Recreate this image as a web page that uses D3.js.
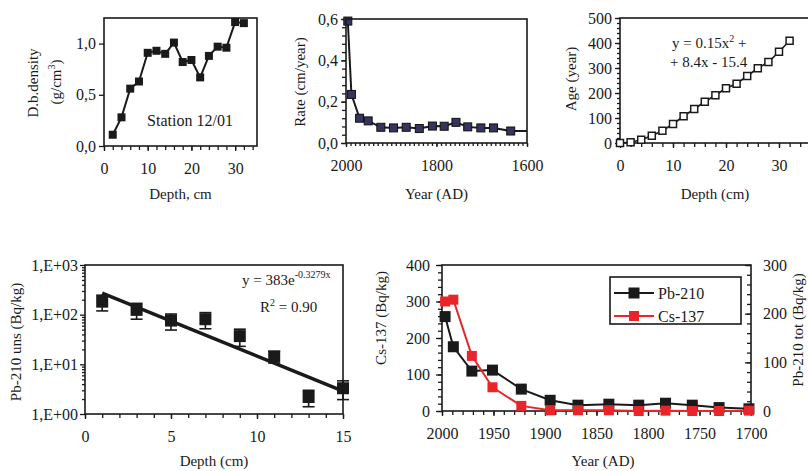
<!DOCTYPE html>
<html><head><meta charset="utf-8">
<script src="https://cdn.jsdelivr.net/npm/d3@7"></script>
<style>
body{margin:0;background:#fff}
svg{display:block}
text{font-family:"Liberation Serif","Times New Roman",serif;fill:#1a1a1a}
</style>
</head><body>
<svg id="c" width="808" height="471"></svg>
<script>
// ---------- DATA ----------
// Panel A: dry bulk density vs depth
const densDepth = [2,4,6,8,10,12,14,16,18,20,22,24,26,28,30,32];
const densValue = [0.11,0.28,0.56,0.63,0.91,0.93,0.90,1.01,0.82,0.84,0.67,0.88,0.97,0.96,1.21,1.20];
const densYTicks = [0,0.5,1.0];
const densYLabels = ["0,0","0,5","1,0"];
const densXTicks = [0,10,20,30];

// Panel B: sedimentation rate vs year
const rateYear  = [1996,1988,1970,1951,1923,1895,1867,1838,1809,1783,1757,1731,1702,1674,1636,1585];
const rateValue = [0.59,0.235,0.12,0.107,0.076,0.073,0.076,0.070,0.082,0.081,0.100,0.078,0.073,0.073,0.058,0.058];
const rateMarkerCount = 15;
const rateYTicks = [0,0.2,0.4,0.6];
const rateYLabels = ["0,0","0,2","0,4","0,6"];
const rateXTicks = [2000,1800,1600];

// Panel C: age vs depth
const ageDepth = [0,2,4,6,8,10,12,14,16,18,20,22,24,26,28,30,32];
const ageValue = [0,3,13,29,49,76,107,136,165,191,219,237,268,299,324,365,409];
const ageYTicks = [0,100,200,300,400,500];
const ageXTicks = [0,10,20,30];

// Panel D: Pb-210 unsupported (log) vs depth
const pbuDepth = [1,3,5,7,9,11,13,15];
const pbuValue = [183,125,76,81,37,14.4,2.2,3.3];
const pbuErr   = [64,44,27,29,14,3.8,0.8,1.35];
const pbuFitX  = [1,15];
const pbuFitY  = [270,2.9];
const pbuYTicks = [1,10,100,1000];
const pbuYLabels = ["1,E+00","1,E+01","1,E+02","1,E+03"];
const pbuXTicks = [0,5,10,15];

// Panel E: Pb-210 tot and Cs-137 vs year
const profYear = [1997,1989,1971,1951,1923,1895,1868,1838,1809,1783,1757,1731,1702];
const pbTot    = [194,132,82,84,45,22,12,14,12,16,12,7,4.5];
const csValue  = [300,305,151,65,14,2,2,2,0,1,0,0,1];
const profXTicks = [2000,1950,1900,1850,1800,1750,1700];
const csYTicks = [0,100,200,300,400];
const pbYTicks = [0,100,200,300];
const legendNames = ["Pb-210","Cs-137"];
const seriesColors = ["#1a1a1a","#e8262a"];

// ---------- DRAWING ----------
const svg = d3.select("#c");
const INK = "#1a1a1a";
const FS = 15;
const TFS = 16;

function styleAxis(g){
  g.select(".domain").remove();
  g.selectAll("line").attr("stroke",INK).attr("stroke-width",1.3);
  g.selectAll("text").attr("font-size",TFS).attr("fill",INK)
    .style("font-family",'"Liberation Serif","Times New Roman",serif');
}
function axis(gen, pos, scale, vals, fmt, size, pad, isMinor){
  const a = gen(scale).tickValues(vals).tickSize(size).tickPadding(pad)
     .tickFormat(isMinor ? "" : fmt);
  const g = svg.append("g").attr("transform", pos).call(a);
  styleAxis(g);
  return g;
}
function frame(x0,x1,y0,y1,w){
  svg.append("rect").attr("x",x0).attr("y",y0).attr("width",x1-x0).attr("height",y1-y0)
    .attr("fill","none").attr("stroke",INK).attr("stroke-width",w||1.6);
}
function ytitle(x, y, fs){
  return svg.append("text").attr("transform",`translate(${x},${y}) rotate(-90)`)
    .attr("text-anchor","middle").attr("font-size",fs||FS);
}
function clip(id,x0,x1,y0,y1){
  svg.append("clipPath").attr("id",id).append("rect")
    .attr("x",x0).attr("y",y0).attr("width",x1-x0).attr("height",y1-y0);
}

// ===== Panel A =====
{
  const x = d3.scaleLinear([0,35],[104,257]);
  const y = d3.scaleLinear([0,1.25],[146,18]);
  axis(d3.axisBottom,`translate(0,${y(0)})`,x,d3.range(0,35,2),null,4,0,true);
  axis(d3.axisBottom,`translate(0,${y(0)})`,x,densXTicks,d3.format("d"),5,12,false);
  axis(d3.axisLeft,`translate(${x(0)},0)`,y,densYTicks,(d,i)=>densYLabels[i],5,3,false);
  frame(x(0),x(35),y(1.25),y(0));
  svg.append("path").datum(densDepth.map((d,i)=>[d,densValue[i]]))
    .attr("d",d3.line().x(d=>x(d[0])).y(d=>y(d[1])))
    .attr("fill","none").attr("stroke",INK).attr("stroke-width",2);
  svg.append("g").selectAll("rect").data(densDepth).join("rect")
    .attr("x",d=>x(d)-4).attr("y",(d,i)=>y(densValue[i])-4).attr("width",8).attr("height",8)
    .attr("fill",INK);
  svg.append("text").attr("x",190).attr("y",126).attr("text-anchor","middle")
    .attr("font-size",16).text("Station 12/01");
  svg.append("text").attr("x",(x(0)+x(35))/2).attr("y",199).attr("text-anchor","middle")
    .attr("font-size",FS).text("Depth, cm");
  ytitle(38,83).text("D.b.density");
  const t2 = ytitle(61,82);
  t2.append("tspan").text("(g/cm");
  t2.append("tspan").attr("dy",-6).attr("font-size",10).text("3");
  t2.append("tspan").attr("dy",6).text(")");
}

// ===== Panel B =====
{
  const x = d3.scaleLinear([2000,1600],[346,527]);
  const y = d3.scaleLinear([0,0.6],[143,19]);
  axis(d3.axisBottom,`translate(0,${y(0)})`,x,d3.range(2000,1599,-10),null,3,0,true);
  axis(d3.axisBottom,`translate(0,${y(0)})`,x,rateXTicks,d3.format("d"),4,13,false);
  axis(d3.axisLeft,`translate(${x(2000)},0)`,y,d3.range(0,0.601,0.04),null,4,0,true);
  axis(d3.axisLeft,`translate(${x(2000)},0)`,y,rateYTicks,(d,i)=>rateYLabels[i],5,3,false);
  clip("clipB",x(2000),x(1600),y(0.6)-6,y(0));
  const pts = rateYear.map((d,i)=>[d,rateValue[i]]);
  svg.append("path").datum(pts).attr("clip-path","url(#clipB)")
    .attr("d",d3.line().x(d=>x(d[0])).y(d=>y(d[1])))
    .attr("fill","none").attr("stroke",INK).attr("stroke-width",2);
  svg.append("g").selectAll("rect").data(pts.slice(0,rateMarkerCount)).join("rect")
    .attr("x",d=>x(d[0])-4).attr("y",d=>y(d[1])-4).attr("width",8).attr("height",8)
    .attr("fill","#34345e").attr("stroke","#111").attr("stroke-width",1);
  frame(x(2000),x(1600),y(0.6),y(0));
  svg.append("text").attr("x",(x(2000)+x(1600))/2).attr("y",199).attr("text-anchor","middle")
    .attr("font-size",FS).text("Year (AD)");
  ytitle(305,82).text("Rate (cm/year)");
}

// ===== Panel C =====
{
  const x = d3.scaleLinear([0,40],[620,832]);
  const y = d3.scaleLinear([0,500],[143,18]);
  axis(d3.axisBottom,`translate(0,${y(0)})`,x,d3.range(0,41,2),null,4,0,true);
  axis(d3.axisBottom,`translate(0,${y(0)})`,x,ageXTicks,d3.format("d"),5,12,false);
  axis(d3.axisLeft,`translate(${x(0)},0)`,y,d3.range(0,501,20),null,3,0,true);
  axis(d3.axisLeft,`translate(${x(0)},0)`,y,ageYTicks,d3.format("d"),5,3,false);
  frame(x(0),x(40),y(500),y(0));
  svg.append("path").datum(ageDepth.map((d,i)=>[d,ageValue[i]]))
    .attr("d",d3.line().x(d=>x(d[0])).y(d=>y(d[1])))
    .attr("fill","none").attr("stroke",INK).attr("stroke-width",1.6);
  svg.append("g").selectAll("rect").data(ageDepth).join("rect")
    .attr("x",d=>x(d)-3.5).attr("y",(d,i)=>y(ageValue[i])-3.5).attr("width",7).attr("height",7)
    .attr("fill","#fff").attr("stroke",INK).attr("stroke-width",1.5);
  const e1 = svg.append("text").attr("x",672).attr("y",48).attr("font-size",FS);
  e1.append("tspan").text("y = 0.15x");
  e1.append("tspan").attr("dy",-6).attr("font-size",10).text("2");
  e1.append("tspan").attr("dy",6).text(" +");
  svg.append("text").attr("x",670).attr("y",67).attr("font-size",FS).text("+ 8.4x - 15.4");
  svg.append("text").attr("x",715).attr("y",199).attr("text-anchor","middle")
    .attr("font-size",FS).text("Depth (cm)");
  ytitle(576,79).text("Age (year)");
}

// ===== Panel D =====
{
  const x = d3.scaleLinear([0,15],[85,343]);
  const y = d3.scaleLog([1,1000],[414,265]);
  axis(d3.axisBottom,`translate(0,${y(1)})`,x,d3.range(0,16,1),null,4,0,true);
  axis(d3.axisBottom,`translate(0,${y(1)})`,x,pbuXTicks,d3.format("d"),5,12,false);
  const minor = [];
  for (let p=1;p<1000;p*=10) for (let k=2;k<10;k++) minor.push(p*k);
  axis(d3.axisLeft,`translate(${x(0)},0)`,y,minor,null,3,0,true);
  axis(d3.axisLeft,`translate(${x(0)},0)`,y,pbuYTicks,(d,i)=>pbuYLabels[i],5,2,false);
  frame(x(0),x(15),y(1000),y(1));
  const eb = svg.append("g").attr("stroke",INK).attr("stroke-width",1.6);
  pbuDepth.forEach((d,i)=>{
    const lo = y(pbuValue[i]-pbuErr[i]), hi = y(pbuValue[i]+pbuErr[i]);
    eb.append("line").attr("x1",x(d)).attr("x2",x(d)).attr("y1",lo).attr("y2",hi);
    eb.append("line").attr("x1",x(d)-6).attr("x2",x(d)+6).attr("y1",lo).attr("y2",lo);
    eb.append("line").attr("x1",x(d)-6).attr("x2",x(d)+6).attr("y1",hi).attr("y2",hi);
  });
  svg.append("g").selectAll("rect").data(pbuDepth).join("rect")
    .attr("x",d=>x(d)-6).attr("y",(d,i)=>y(pbuValue[i])-6).attr("width",12).attr("height",12)
    .attr("fill",INK);
  svg.append("path").datum(pbuFitX.map((d,i)=>[d,pbuFitY[i]]))
    .attr("d",d3.line().x(d=>x(d[0])).y(d=>y(d[1])))
    .attr("fill","none").attr("stroke",INK).attr("stroke-width",3.5);
  const e = svg.append("text").attr("x",242).attr("y",285).attr("font-size",FS);
  e.append("tspan").text("y = 383e");
  e.append("tspan").attr("dy",-7).attr("font-size",10).text("-0.3279x");
  const r = svg.append("text").attr("x",260).attr("y",312).attr("font-size",FS);
  r.append("tspan").text("R");
  r.append("tspan").attr("dy",-6).attr("font-size",10).text("2");
  r.append("tspan").attr("dy",6).text(" = 0.90");
  svg.append("text").attr("x",214).attr("y",466).attr("text-anchor","middle")
    .attr("font-size",FS).text("Depth (cm)");
  ytitle(21,342).text("Pb-210 uns (Bq/kg)");
}

// ===== Panel E =====
{
  const x = d3.scaleLinear([2000,1700],[442,751]);
  const yL = d3.scaleLinear([0,400],[411,265]);
  const yR = d3.scaleLinear([0,300],[411,265]);
  axis(d3.axisBottom,`translate(0,${yL(0)})`,x,d3.range(2000,1699,-10),null,4,0,true);
  axis(d3.axisBottom,`translate(0,${yL(0)})`,x,profXTicks,d3.format("d"),5,12,false);
  axis(d3.axisLeft,`translate(${x(2000)},0)`,yL,d3.range(0,401,20),null,4,0,true);
  axis(d3.axisLeft,`translate(${x(2000)},0)`,yL,csYTicks,d3.format("d"),6,6,false);
  axis(d3.axisRight,`translate(${x(1700)},0)`,yR,d3.range(0,301,20),null,-4,0,true);
  axis(d3.axisRight,`translate(${x(1700)},0)`,yR,pbYTicks,d3.format("d"),-6,12,false);
  frame(x(2000),x(1700),yL(400),yL(0));
  const lineCs = d3.line().x((d,i)=>x(profYear[i])).y(d=>yL(d));
  const linePb = d3.line().x((d,i)=>x(profYear[i])).y(d=>yR(d));
  svg.append("path").datum(pbTot).attr("d",linePb).attr("fill","none")
    .attr("stroke",seriesColors[0]).attr("stroke-width",2);
  svg.append("g").selectAll("rect").data(pbTot).join("rect")
    .attr("x",(d,i)=>x(profYear[i])-5.5).attr("y",d=>yR(d)-5.5).attr("width",11).attr("height",11)
    .attr("fill",seriesColors[0]);
  svg.append("path").datum(csValue).attr("d",lineCs).attr("fill","none")
    .attr("stroke",seriesColors[1]).attr("stroke-width",2);
  svg.append("g").selectAll("rect").data(csValue).join("rect")
    .attr("x",(d,i)=>x(profYear[i])-5).attr("y",d=>yL(d)-5).attr("width",10).attr("height",10)
    .attr("fill",seriesColors[1]);
  // legend
  svg.append("rect").attr("x",610).attr("y",277).attr("width",131).attr("height",47)
    .attr("fill","#fff").attr("stroke",INK).attr("stroke-width",1.6);
  legendNames.forEach((n,i)=>{
    const cy = 293 + i*23;
    svg.append("line").attr("x1",614).attr("x2",654).attr("y1",cy).attr("y2",cy)
      .attr("stroke",seriesColors[i]).attr("stroke-width",2);
    svg.append("rect").attr("x",634-(i?5:5.5)).attr("y",cy-(i?5:5.5))
      .attr("width",i?10:11).attr("height",i?10:11).attr("fill",seriesColors[i]);
    svg.append("text").attr("x",658).attr("y",cy+5.5).attr("font-size",16).text(n);
  });
  svg.append("text").attr("x",603).attr("y",466).attr("text-anchor","middle")
    .attr("font-size",FS).text("Year (AD)");
  ytitle(386,318).text("Cs-137 (Bq/kg)");
  ytitle(803,330).text("Pb-210 tot (Bq/kg)");
}
</script>
</body></html>
